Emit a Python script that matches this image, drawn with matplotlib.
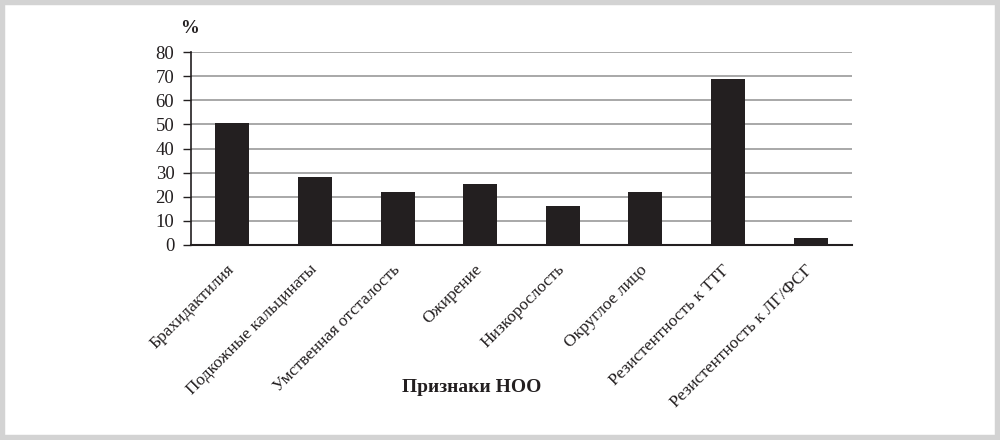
import matplotlib.pyplot as plt
import matplotlib.transforms as mtransforms
from matplotlib.patches import Rectangle

categories = [
    "Брахидактилия",
    "Подкожные кальцинаты",
    "Умственная отсталость",
    "Ожирение",
    "Низкорослость",
    "Округлое лицо",
    "Резистентность к ТТГ",
    "Резистентность к ЛГ/ФСГ",
]
values = [50.5, 28.3, 22.0, 25.4, 16.0, 22.0, 69.0, 2.9]
yticks = [0, 10, 20, 30, 40, 50, 60, 70, 80]

ink = "#231f20"
plt.rcParams["font.family"] = ["Liberation Serif", "DejaVu Serif"]

fig = plt.figure(figsize=(10, 4.4), dpi=100)
# grey frame around the picture
fig.patches.append(Rectangle((0, 0), 1, 1, transform=fig.transFigure,
                             facecolor="none", edgecolor="#d3d3d3", linewidth=7.5))

ax = fig.add_axes([0.191, 0.4432, 0.661, 0.4386])
x = range(len(categories))
ax.bar(x, values, width=0.41, color=ink, zorder=3)

ax.set_xlim(-0.5, len(categories) - 0.5)
ax.set_ylim(0, 80)
ax.set_yticks(yticks)
ax.set_yticklabels([str(v) for v in yticks], fontsize=13.5, color=ink)
ax.yaxis.grid(True, color="#9a9a9a", linewidth=1.2, zorder=0)
ax.tick_params(axis="y", direction="out", length=6, width=1, color=ink, pad=6)

ax.set_xticks(list(x))
ax.set_xticklabels(categories, rotation=45, ha="right", va="top",
                   rotation_mode="anchor", fontsize=12.5, color=ink)
ax.tick_params(axis="x", length=0, pad=12)
shift = mtransforms.ScaledTranslation(-0.06, 0.0, fig.dpi_scale_trans)
for lbl in ax.get_xticklabels():
    lbl.set_transform(lbl.get_transform() + shift)

for side in ["top", "right"]:
    ax.spines[side].set_visible(False)
ax.spines["left"].set_color(ink)
ax.spines["bottom"].set_color(ink)
ax.spines["left"].set_linewidth(1.2)
ax.spines["bottom"].set_linewidth(1.5)

fig.text(0.19, 0.935, "%", fontsize=13.5, fontweight="bold", color=ink,
         ha="center", va="center")
fig.text(0.472, 0.12, "Признаки НОО", fontsize=14, fontweight="bold", color=ink,
         ha="center", va="center")

fig.savefig("out.png", dpi=100)
